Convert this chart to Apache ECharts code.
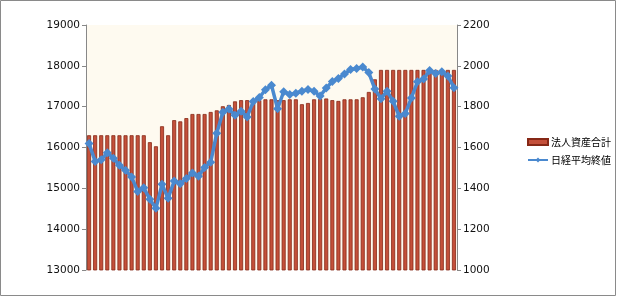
<!DOCTYPE html>
<html><head><meta charset="utf-8">
<script src="https://cdn.jsdelivr.net/npm/echarts@6/dist/echarts.min.js"></script>
<style>html,body{margin:0;padding:0;background:#fff}#c{width:617px;height:297px}</style>
</head><body><div id="c"></div>
<script>
var categories = [];
for (var k = 1; k <= 61; k++) categories.push(String(k));
var assets = [16300,16300,16300,16300,16300,16300,16300,16300,16300,16300,
  16130,16030,16520,16300,16670,16640,16720,16820,16820,16820,
  16870,16910,17010,17040,17130,17160,17160,17180,17160,17180,
  17180,17160,17160,17180,17180,17060,17090,17180,17190,17200,
  17160,17140,17180,17180,17180,17230,17360,17670,17900,17900,
  17900,17900,17900,17900,17900,17900,17900,17900,17900,17900,17900];
var nikkei = [1620,1532,1540,1574,1547,1513,1488,1456,1385,1403,
  1346,1302,1420,1351,1436,1423,1448,1475,1459,1502,
  1528,1670,1773,1788,1758,1778,1750,1825,1845,1883,
  1905,1790,1873,1859,1866,1876,1884,1876,1852,1891,
  1923,1938,1960,1982,1987,1994,1967,1886,1839,1876,
  1826,1753,1767,1843,1922,1935,1977,1963,1971,1950,1893];
var seriesNames = ['法人資産合計','日経平均終値'];

var chart = echarts.init(document.getElementById('c'), null, {renderer:'canvas'});
function plain(v){ return String(v); }
var labelStyle = {color:'#111', fontSize:10.5, fontFamily:'DejaVu Sans', formatter:plain};
chart.setOption({
  animation:false,
  backgroundColor:'#fff',
  graphic:[{type:'rect', shape:{x:0.5,y:0.5,width:615,height:295}, style:{fill:'none', stroke:'#8a8a8a', lineWidth:1}, silent:true}],
  grid:{left:86, right:160, top:25, bottom:27, show:true, backgroundColor:'#fefaf0', borderWidth:0},
  legend:{
    orient:'vertical', left:522, top:132, itemGap:8, itemWidth:20, itemHeight:6,
    textStyle:{fontSize:10, color:'#000', fontFamily:'Noto Sans CJK JP', padding:[0,0,0,-2]},
    data:[{name:seriesNames[0], icon:'rect'},{name:seriesNames[1]}]
  },
  xAxis:{type:'category', data:categories, axisLabel:{show:false}, axisTick:{show:false},
    axisLine:{show:false}},
  yAxis:[
    {type:'value', min:13000, max:19000, interval:1000, position:'left',
     axisLine:{show:true, lineStyle:{color:'#888'}}, axisTick:{show:true, inside:false, length:4, lineStyle:{color:'#888'}},
     splitLine:{show:false}, axisLabel:Object.assign({margin:6}, labelStyle)},
    {type:'value', min:1000, max:2200, interval:200, position:'right',
     axisLine:{show:true, lineStyle:{color:'#888'}}, axisTick:{show:true, inside:false, length:4, lineStyle:{color:'#888'}},
     splitLine:{show:false}, axisLabel:Object.assign({margin:6}, labelStyle)}
  ],
  series:[
    {name:seriesNames[0], type:'bar', yAxisIndex:0, data:assets, barWidth:4,
     itemStyle:{color:'#c4503a', borderColor:'#862816', borderWidth:0.8}},
    {name:seriesNames[1], type:'line', yAxisIndex:1, data:nikkei, z:5,
     symbol:'diamond', symbolSize:9, showSymbol:true, showAllSymbol:true,
     lineStyle:{color:'#4a89cf', width:3.5},
     itemStyle:{color:'#4a89cf'}}
  ]
});
</script></body></html>
